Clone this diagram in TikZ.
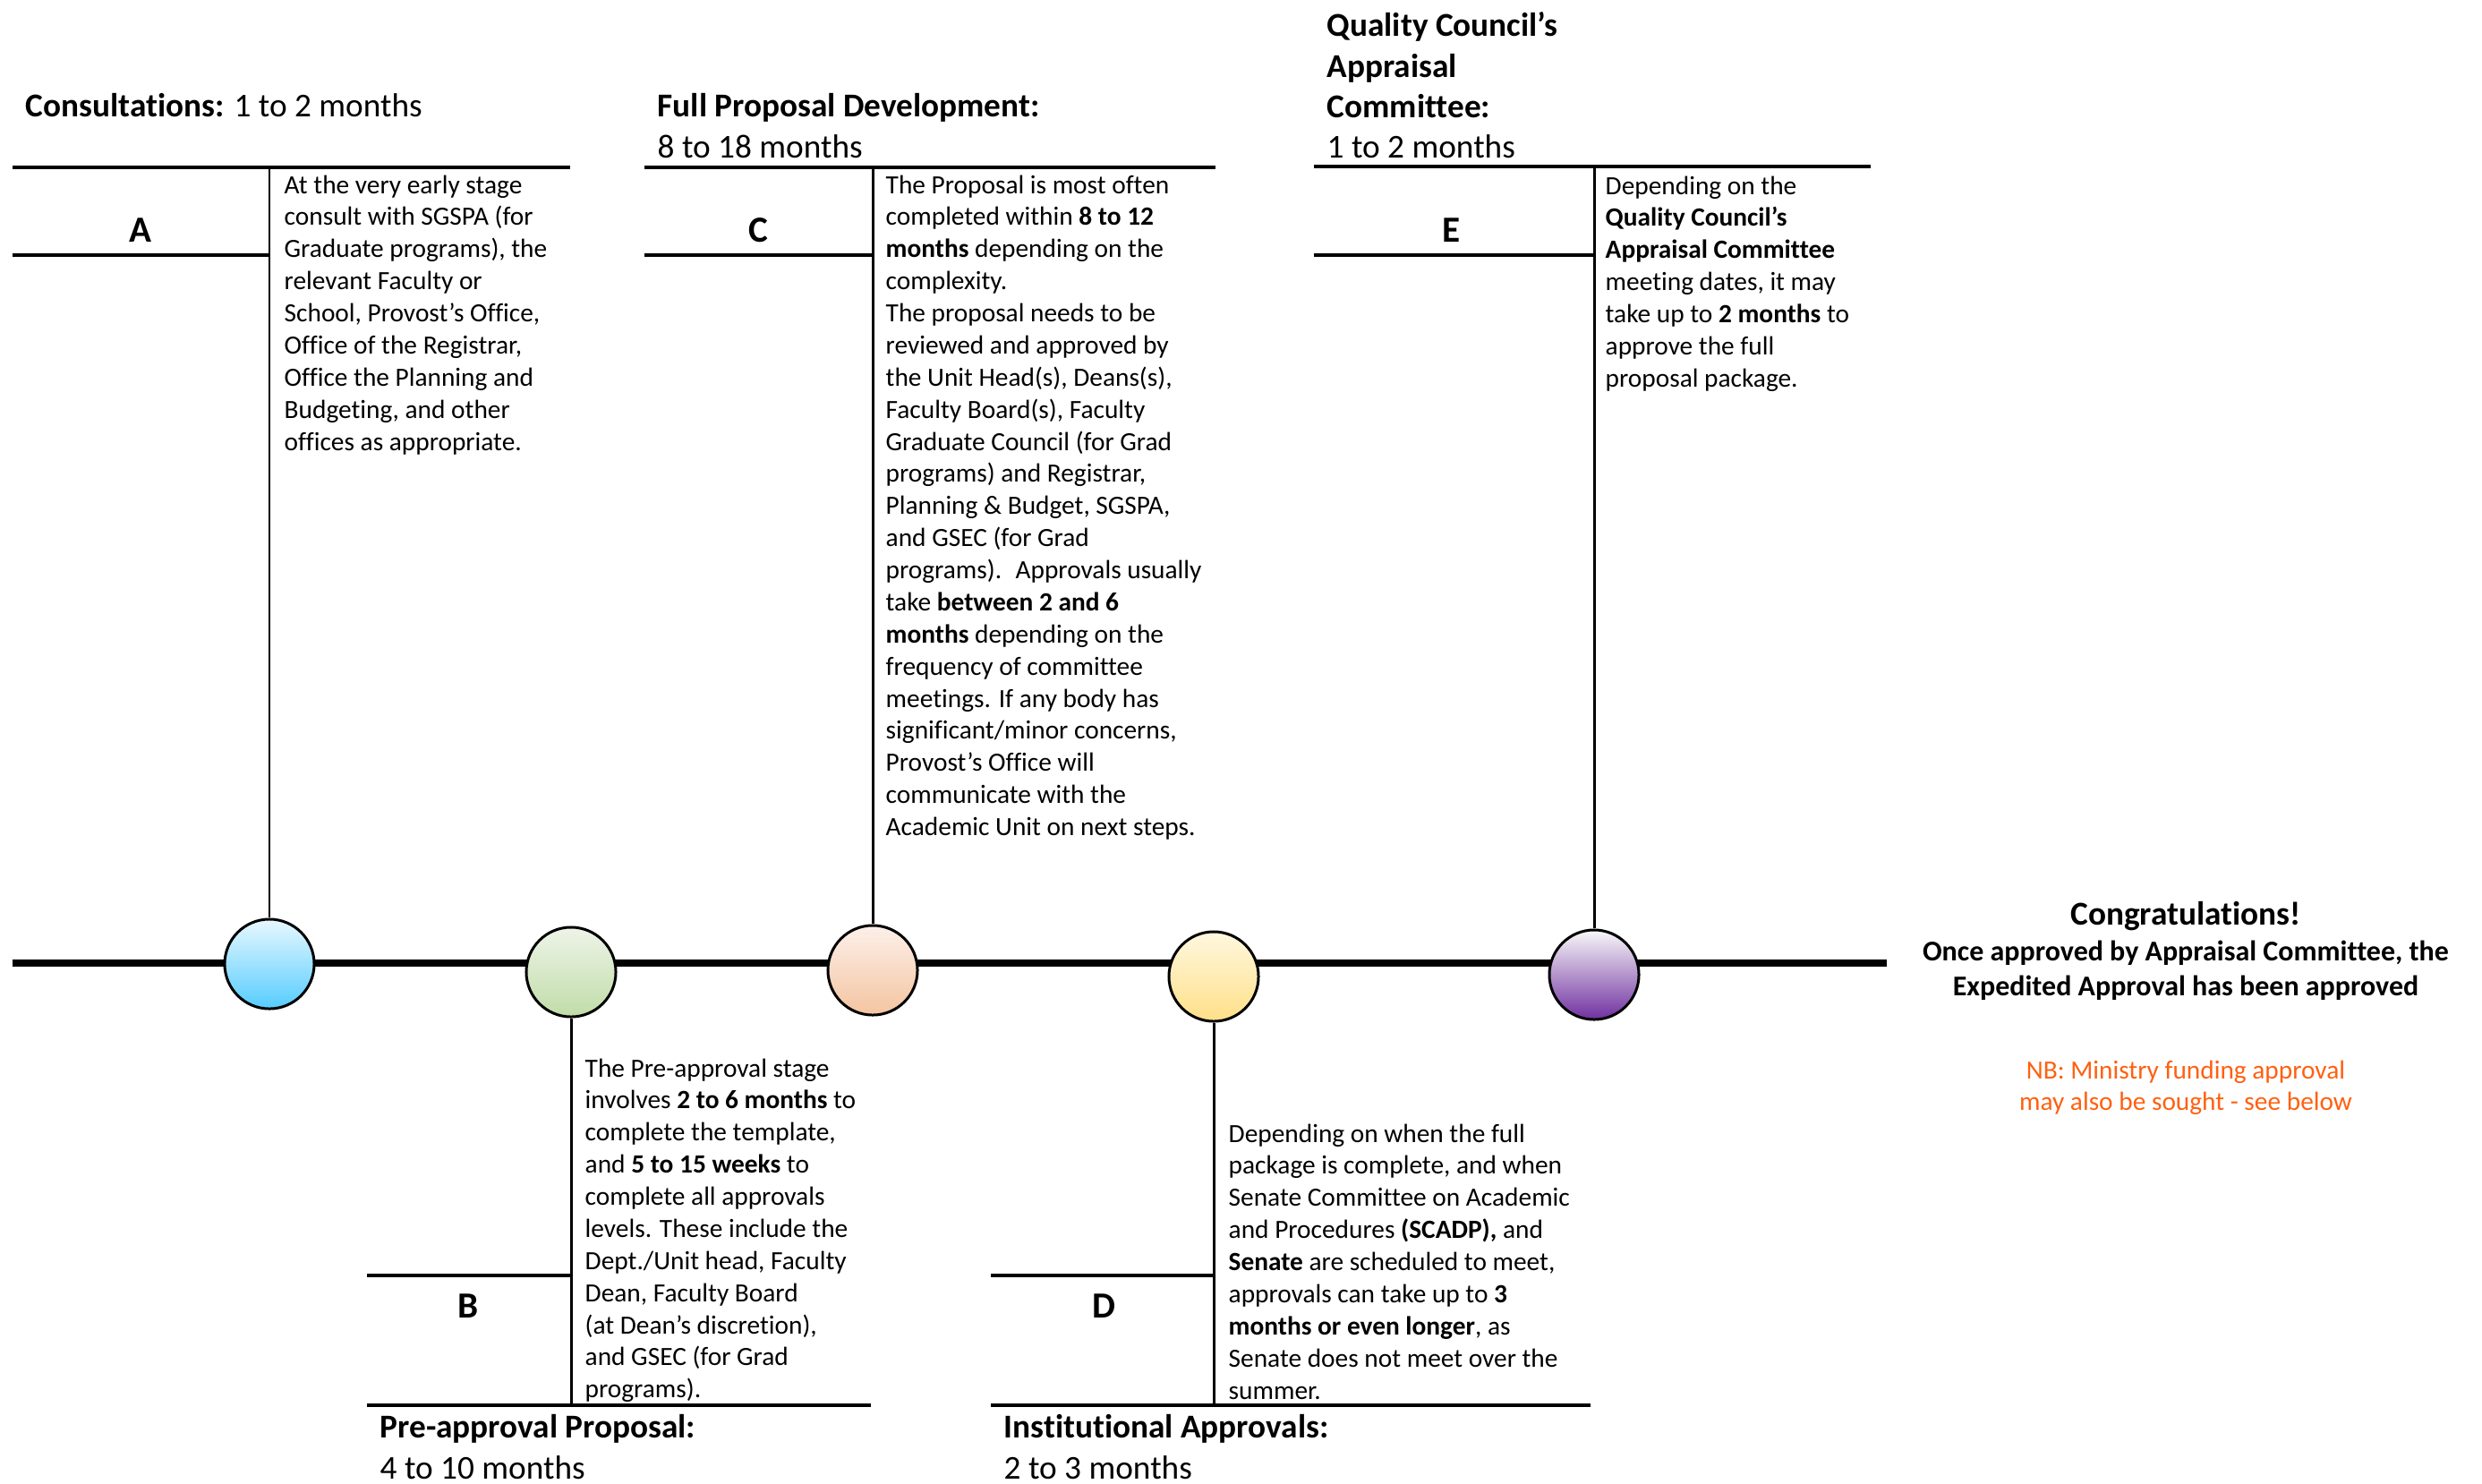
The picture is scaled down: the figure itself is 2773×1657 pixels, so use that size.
\documentclass[tikz,border=0pt]{standalone}
\usepackage{fontspec}
\setmainfont{Carlito}[Ligatures=NoCommon]
\usepackage{tikz}
\usetikzlibrary{positioning, calc}

\definecolor{blueT}{RGB}{232,248,255}
\definecolor{blueB}{RGB}{85,204,255}
\definecolor{greenT}{RGB}{238,244,232}
\definecolor{greenB}{RGB}{192,220,168}
\definecolor{orangeT}{RGB}{252,240,234}
\definecolor{orangeB}{RGB}{244,196,160}
\definecolor{yellowT}{RGB}{255,248,224}
\definecolor{yellowB}{RGB}{255,224,136}
\definecolor{purpleT}{RGB}{248,248,248}
\definecolor{purpleB}{RGB}{112,48,160}
\definecolor{nbcolor}{RGB}{255,96,16}

\begin{document}
\begin{tikzpicture}[x=0.01cm, y=-0.01cm]
        % Define block styles
        \tikzstyle{stage} = [circle, draw, line width=0.85pt, minimum size=1cm, inner sep=0pt]
        \tikzstyle{desc} = [anchor=north west, inner sep=0pt, align=left, font=\fontsize{8.35}{10.2}\selectfont, execute at begin node=\strut]
        \tikzstyle{phase} = [anchor=north west, inner sep=0pt, align=left, font=\fontsize{10.6}{12.9}\selectfont, execute at begin node=\strut]
        \tikzstyle{letter} = [inner sep=0pt, font=\fontsize{11.7}{14}\selectfont\bfseries]
        \tikzstyle{rule} = [line width=1.3pt]
        \tikzstyle{stem} = [line width=0.85pt]

        \useasboundingbox (0,0) rectangle (2773,1657);

        % Timeline
        \coordinate (start) at (14,1076);
        \coordinate (finish) at (2108,1076);
        \draw[line width=2.4pt] (start) -- (finish);

        % Place stages
        \node [stage, top color=blueT, bottom color=blueB] (ca) at (301,1077) {};
        \node [stage, top color=greenT, bottom color=greenB] (cb) at (638,1086) {};
        \node [stage, top color=orangeT, bottom color=orangeB] (cc) at (975,1084) {};
        \node [stage, top color=yellowT, bottom color=yellowB] (cd) at (1356,1091) {};
        \node [stage, top color=purpleT, bottom color=purpleB] (ce) at (1781,1089) {};

        % Frame for A
        \coordinate (a-left) at (14,187);
        \coordinate (a-right) at (637,187);
        \draw[rule] (a-left) -- (a-right);
        \draw[rule] (a-left |- 0,285) -- (ca |- 0,285);
        \draw[stem] (ca.north) -- (ca |- a-left);

        % Frame for B
        \coordinate (b-left) at (410,1570);
        \coordinate (b-right) at (973,1570);
        \draw[rule] (b-left) -- (b-right);
        \draw[rule] (b-left |- 0,1425) -- (cb |- 0,1425);
        \draw[stem] (cb.south) -- (cb |- b-left);

        % Frame for C
        \coordinate (c-left) at (720,187);
        \coordinate (c-right) at (1358,187);
        \draw[rule] (c-left) -- (c-right);
        \draw[rule] (c-left |- 0,285) -- (cc |- 0,285);
        \draw[stem] (cc.north) -- (cc |- c-left);

        % Frame for D
        \coordinate (d-left) at (1107,1570);
        \coordinate (d-right) at (1777,1570);
        \draw[rule] (d-left) -- (d-right);
        \draw[rule] (d-left |- 0,1425) -- (cd |- 0,1425);
        \draw[stem] (cd.south) -- (cd |- d-left);

        % Frame for E
        \coordinate (e-left) at (1468,186);
        \coordinate (e-right) at (2090,186);
        \draw[rule] (e-left) -- (e-right);
        \draw[rule] (e-left |- 0,285) -- (ce |- 0,285);
        \draw[stem] (ce.north) -- (ce |- e-left);

        % Letters
        \node[letter] (la) at (157,257) {A};
        \node[letter] (lb) at (523,1459) {B};
        \node[letter] (lc) at (847,257) {C};
        \node[letter] (ld) at (1233,1459) {D};
        \node[letter] (le) at (1622,257) {E};

        % Phase titles
        \node[phase] (ta) at (28,98) {\textbf{Consultations:} 1 to 2 months};
        \node[phase] (tb) at (424,1580) {\textbf{Pre-approval Proposal:}\\4 to 10 months};
        \node[phase] (tc) at (734,104) {\textbf{Full Proposal Development:}\\8 to 18 months};
        \node[phase] (td) at (1121,1580) {\textbf{Institutional Approvals:}\\2 to 3 months};
        \node[phase] (te) at (1482,13) {\textbf{Quality Council’s}\\\textbf{Appraisal}\\\textbf{Committee:}\\1 to 2 months};

        % Descriptions
        \node[desc] (da) at (317,195) {At the very early stage\\consult with SGSPA (for\\Graduate programs), the\\relevant Faculty or\\School, Provost’s Office,\\Office of the Registrar,\\Office the Planning and\\Budgeting, and other\\offices as appropriate.};
        \node[desc] (db) at (653,1182) {The Pre-approval stage\\involves \textbf{2 to 6 months} to\\complete the template,\\and \textbf{5 to 15 weeks} to\\complete all approvals\\levels. These include the\\Dept./Unit head, Faculty\\Dean, Faculty Board\\(at Dean's discretion),\\and GSEC (for Grad\\programs).};
        \node[desc] (dc) at (989,195) {The Proposal is most often\\completed within \textbf{8 to 12}\\\textbf{months} depending on the\\complexity.\\The proposal needs to be\\reviewed and approved by\\the Unit Head(s), Deans(s),\\Faculty Board(s), Faculty\\Graduate Council (for Grad\\programs) and Registrar,\\Planning \& Budget, SGSPA,\\and GSEC (for Grad\\programs).~ Approvals usually\\take \textbf{between 2 and 6}\\\textbf{months} depending on the\\frequency of committee\\meetings. If any body has\\significant/minor concerns,\\Provost’s Office will\\communicate with the\\Academic Unit on next steps.};
        \node[desc] (dd) at (1372,1255) {Depending on when the full\\package is complete, and when\\Senate Committee on Academic\\and Procedures \textbf{(SCADP),} and\\\textbf{Senate} are scheduled to meet,\\approvals can take up to \textbf{3}\\\textbf{months or even longer}, as\\Senate does not meet over the\\summer.};
        \node[desc] (de) at (1793,196) {Depending on the\\\textbf{Quality Council’s}\\\textbf{Appraisal Committee}\\meeting dates, it may\\take up to \textbf{2 months} to\\approve the full\\proposal package.};

        % Closing remarks
        \node[font=\fontsize{10.6}{12.9}\selectfont\bfseries] (done) at (2442,1024) {Congratulations!};
        \node[anchor=north, inner sep=0pt, align=center, font=\fontsize{9.1}{11.1}\selectfont\bfseries, execute at begin node=\strut] (approved) at (2442,1050) {Once approved by Appraisal Committee, the\\Expedited Approval has been approved};
        \node[desc, anchor=north, align=center, text=nbcolor] (nb) at (2442,1184) {NB: Ministry funding approval\\may also be sought - see below};
\end{tikzpicture}
\end{document}
